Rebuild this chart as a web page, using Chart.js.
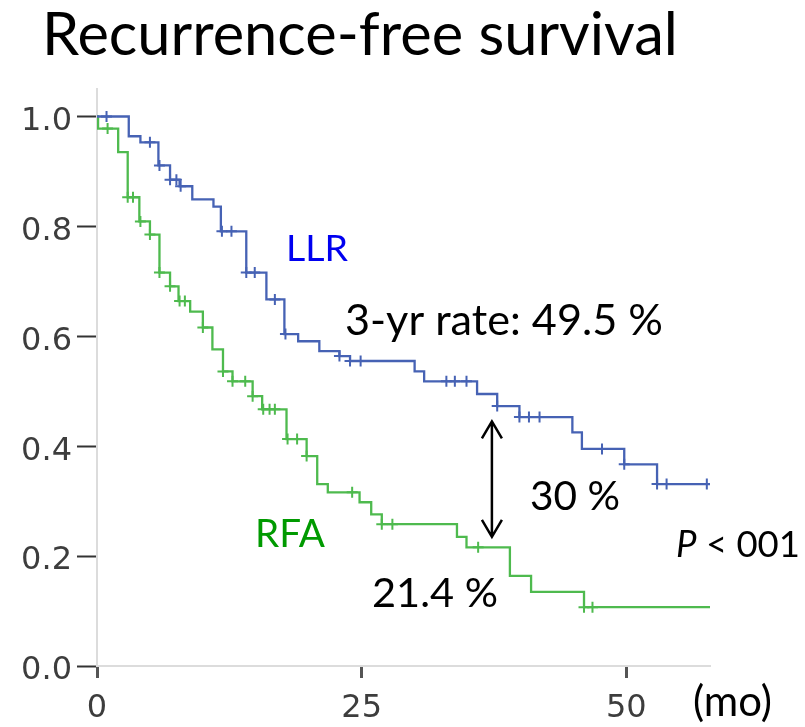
<!DOCTYPE html>
<html><head><meta charset="utf-8">
<script src="https://cdn.jsdelivr.net/npm/chart.js@4.4.0/dist/chart.umd.min.js"></script>
<style>html,body{margin:0;padding:0;background:#fff;}canvas{display:block;}</style>
</head><body>
<canvas id="c" width="805" height="727"></canvas>
<script>
// ---- data (months, survival probability) ----
const llrTimes = [0, 3.0, 4.1, 5.8, 6.9, 7.8, 9.0, 11.0, 11.7, 14.1, 16.0, 17.7, 19.0, 21.0, 22.9, 23.9, 30.0, 30.9, 35.9, 37.8, 39.9, 44.9, 45.8, 49.8, 52.9, 57.9];
const llrSurv  = [1.0, 0.964, 0.953, 0.911, 0.885, 0.873, 0.849, 0.836, 0.791, 0.716, 0.667, 0.604, 0.591, 0.573, 0.564, 0.555, 0.536, 0.518, 0.495, 0.473, 0.453, 0.425, 0.395, 0.367, 0.331, 0.331];
const llrCensor = [0.9, 5.0, 5.9, 6.9, 7.5, 7.9, 11.8, 12.7, 14.1, 14.9, 16.8, 17.8, 22.9, 23.9, 24.9, 33.0, 33.8, 34.9, 37.8, 39.9, 40.8, 41.8, 47.7, 49.8, 52.9, 53.8, 57.6];

const rfaTimes = [0, 0.1, 2.0, 2.9, 4.0, 5.0, 5.9, 6.9, 7.7, 8.8, 10.0, 10.9, 11.9, 12.8, 14.7, 15.6, 17.9, 19.8, 20.8, 21.8, 24.8, 25.9, 26.9, 34.0, 34.9, 39.0, 41.0, 46.0, 57.9];
const rfaSurv  = [1.0, 0.978, 0.935, 0.853, 0.809, 0.785, 0.716, 0.691, 0.664, 0.645, 0.616, 0.576, 0.536, 0.518, 0.491, 0.467, 0.413, 0.382, 0.331, 0.316, 0.298, 0.276, 0.258, 0.235, 0.216, 0.164, 0.135, 0.107, 0.107];
const rfaCensor = [1.0, 2.9, 3.4, 4.1, 5.0, 5.9, 6.9, 7.8, 8.3, 10.0, 11.9, 12.8, 14.0, 14.7, 15.7, 16.3, 16.8, 18.0, 18.9, 19.8, 24.1, 26.9, 27.9, 36.0, 46.0, 46.8];

const xTickValues = [0, 25, 50];
const yTickValues = [0, 0.2, 0.4, 0.6, 0.8, 1.0];
const xMax = 57.9;
const yMax = 1.05;

// 3-yr difference arrow (month, from, to)
const arrowMonth = 37.3;
const arrowFrom = 0.445;
const arrowTo = 0.235;

// ---- helpers ----
function survAt(times, surv, t) {
  let s = surv[0];
  for (let i = 0; i < times.length; i++) if (times[i] <= t + 1e-9) s = surv[i];
  return s;
}
const toPts = (times, surv) => times.map((t, i) => ({x: t, y: surv[i]}));
const toMarks = (times, surv, cens) => cens.map(t => ({x: t, y: survAt(times, surv, t)}));

const BLUE = 'rgb(70,98,180)';
const GREEN = 'rgb(78,186,78)';

const texts = [
  {t: 'Recurrence-free survival', x: 42, y: 55, w: 636, color: '#000'},
  {t: 'LLR', x: 286, y: 261, w: 62, color: '#0000f0'},
  {t: '3-yr rate: 49.5 %', x: 345, y: 335, w: 318, color: '#000'},
  {t: '30 %', x: 530, y: 510, w: 90, color: '#000'},
  {t: 'RFA', x: 255, y: 547, w: 70, color: '#009a00'},
  {t: '21.4 %', x: 372, y: 607, w: 126, color: '#000'},
  {t: '(mo)', x: 693, y: 716, w: 79, color: '#000'}
];
const FAMILY = 'Lato, "Open Sans", sans-serif';

function fitSize(ctx, text, target, style) {
  ctx.font = (style || '') + ' 100px ' + FAMILY;
  return 100 * target / ctx.measureText(text).width;
}

const annot = {
  id: 'annot',
  afterDraw(chart) {
    const ctx = chart.ctx;
    ctx.save();
    ctx.textBaseline = 'alphabetic';
    ctx.textAlign = 'left';
    texts.forEach(o => {
      const s = fitSize(ctx, o.t, o.w, '');
      ctx.font = s + 'px ' + FAMILY;
      ctx.fillStyle = o.color;
      ctx.fillText(o.t, o.x, o.y);
    });
    // P < 001
    ctx.font = 'italic 100px ' + FAMILY;
    const w1 = ctx.measureText('P').width;
    ctx.font = '100px ' + FAMILY;
    const w2 = ctx.measureText(' < 001').width;
    const s = 100 * 124 / (w1 + w2);
    ctx.fillStyle = '#000';
    ctx.font = 'italic ' + s + 'px ' + FAMILY;
    ctx.fillText('P', 676, 557);
    ctx.font = s + 'px ' + FAMILY;
    ctx.fillText(' < 001', 676 + w1 * s / 100, 557);

    // arrow
    const xs = chart.scales.x, ys = chart.scales.y;
    const ax = xs.getPixelForValue(arrowMonth);
    const y1 = ys.getPixelForValue(arrowFrom);
    const y2 = ys.getPixelForValue(arrowTo);
    ctx.strokeStyle = '#000';
    ctx.lineWidth = 2.5;
    ctx.beginPath();
    ctx.moveTo(ax, y1); ctx.lineTo(ax, y2);
    ctx.moveTo(ax - 10, y1 + 17); ctx.lineTo(ax, y1); ctx.lineTo(ax + 10, y1 + 17);
    ctx.moveTo(ax - 10, y2 - 17); ctx.lineTo(ax, y2); ctx.lineTo(ax + 10, y2 - 17);
    ctx.stroke();
    ctx.restore();
  }
};

const tickFont = {family: '"DejaVu Sans", sans-serif', size: 32};

new Chart(document.getElementById('c'), {
  type: 'scatter',
  data: {
    datasets: [
      {data: toPts(llrTimes, llrSurv), showLine: true, stepped: 'before', borderColor: BLUE, borderWidth: 2.3, pointRadius: 0, fill: false},
      {data: toPts(rfaTimes, rfaSurv), showLine: true, stepped: 'before', borderColor: GREEN, borderWidth: 2.3, pointRadius: 0, fill: false},
      {data: toMarks(llrTimes, llrSurv, llrCensor), showLine: false, pointStyle: 'cross', pointRadius: 5.5, borderColor: BLUE, borderWidth: 2},
      {data: toMarks(rfaTimes, rfaSurv, rfaCensor), showLine: false, pointStyle: 'cross', pointRadius: 5.5, borderColor: GREEN, borderWidth: 2}
    ]
  },
  options: {
    responsive: false,
    animation: false,
    devicePixelRatio: 1,
    layout: {padding: {top: 89, right: 95, left: 0, bottom: 0}},
    plugins: {legend: {display: false}, tooltip: {enabled: false}, title: {display: false}},
    scales: {
      x: {
        type: 'linear', min: 0, max: xMax,
        afterBuildTicks: s => { s.ticks = xTickValues.map(v => ({value: v})); },
        afterFit: s => { s.height = 61; },
        grid: {display: true, drawOnChartArea: false, drawTicks: true, tickLength: 12, tickWidth: 3, tickColor: '#555'},
        border: {display: true, color: '#dcdcdc', width: 2},
        ticks: {font: tickFont, color: '#3d3d3d', padding: 11, maxRotation: 0, callback: v => String(v)}
      },
      y: {
        type: 'linear', min: 0, max: yMax,
        afterBuildTicks: s => { s.ticks = yTickValues.map(v => ({value: v})); },
        afterFit: s => { s.width = 97; },
        grid: {display: true, drawOnChartArea: false, drawTicks: true, tickLength: 20, tickWidth: 2, tickColor: '#333'},
        border: {display: true, color: '#dcdcdc', width: 2},
        ticks: {font: tickFont, color: '#3d3d3d', padding: 5, labelOffset: 5, callback: v => Number(v).toFixed(1)}
      }
    }
  },
  plugins: [annot]
});
</script>
</body></html>
